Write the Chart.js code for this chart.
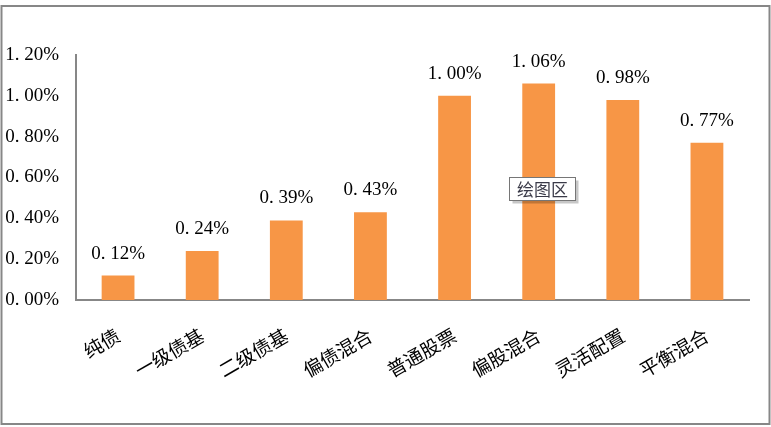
<!DOCTYPE html>
<html>
<head>
<meta charset="utf-8">
<script src="https://cdn.jsdelivr.net/npm/chart.js@4/dist/chart.umd.min.js"></script>
<style>
  html, body { margin: 0; padding: 0; background: #ffffff; }
  #wrap { width: 771px; height: 427px; }
</style>
</head>
<body>
<div id="wrap"><canvas id="c" width="771" height="427"></canvas></div>
<script>
// Fund categories and their average returns (percent)
const categories = ['纯债', '一级债基', '二级债基', '偏债混合', '普通股票', '偏股混合', '灵活配置', '平衡混合'];
const returns = [0.12, 0.24, 0.39, 0.43, 1.00, 1.06, 0.98, 0.77];
const yTickLabels = ['0. 00%', '0. 20%', '0. 40%', '0. 60%', '0. 80%', '1. 00%', '1. 20%'];
const hoverTip = '绘图区';

const numFont = '"Liberation Serif", "Times New Roman", serif';
const cjkFont = '"Noto Sans CJK SC", "Noto Sans", sans-serif';

function fmtPct(v) {
  return v.toFixed(2).replace('.', '. ') + '%';
}

// Outer frame of the chart
const framePlugin = {
  id: 'frame',
  beforeDraw(chart) {
    const ctx = chart.ctx;
    ctx.save();
    ctx.fillStyle = '#ffffff';
    ctx.fillRect(0, 0, chart.width, chart.height);
    ctx.restore();
  },
  afterDraw(chart) {
    const ctx = chart.ctx;
    ctx.save();
    ctx.strokeStyle = '#878787';
    ctx.lineWidth = 2;
    ctx.strokeRect(1.5, 6, 768, 418);
    ctx.restore();
  }
};

// Value labels above each bar
const valueLabels = {
  id: 'valueLabels',
  afterDatasetsDraw(chart) {
    const ctx = chart.ctx;
    const meta = chart.getDatasetMeta(0);
    ctx.save();
    ctx.font = '19px ' + numFont;
    ctx.fillStyle = '#000000';
    ctx.textAlign = 'center';
    ctx.textBaseline = 'alphabetic';
    meta.data.forEach((bar, i) => {
      ctx.fillText(fmtPct(returns[i]), bar.x, bar.y - 17);
    });
    ctx.restore();
  }
};

// Small hover hint box over the plot area
const hintBox = {
  id: 'hintBox',
  afterDraw(chart) {
    const ctx = chart.ctx;
    const x = 509.5, y = 177.5, w = 66, h = 23;
    ctx.save();
    ctx.fillStyle = 'rgba(0,0,0,0.22)';
    ctx.fillRect(x + 3, y + 3, w, h);
    ctx.fillStyle = '#ffffff';
    ctx.fillRect(x, y, w, h);
    ctx.strokeStyle = '#767676';
    ctx.lineWidth = 1;
    ctx.strokeRect(x, y, w, h);
    ctx.font = '17px ' + cjkFont;
    ctx.fillStyle = '#3a3a48';
    ctx.textAlign = 'center';
    ctx.textBaseline = 'middle';
    ctx.fillText(hoverTip, x + w / 2, y + h / 2 + 1);
    ctx.restore();
  }
};

new Chart(document.getElementById('c'), {
  type: 'bar',
  data: {
    labels: categories,
    datasets: [{
      data: returns,
      backgroundColor: '#F79646',
      borderWidth: 0,
      barPercentage: 0.39,
      categoryPercentage: 1.0
    }]
  },
  options: {
    responsive: false,
    animation: false,
    events: [],
    layout: { padding: { left: 0, right: 22, top: 55, bottom: 0 } },
    plugins: {
      legend: { display: false },
      tooltip: { enabled: false },
      title: { display: false }
    },
    scales: {
      x: {
        grid: { display: false, drawTicks: false },
        border: { display: true, color: '#878787', width: 2 },
        ticks: {
          color: '#000000',
          font: { family: cjkFont, size: 19 },
          minRotation: 30,
          maxRotation: 30,
          padding: 24,
          autoSkip: false
        },
        afterFit(scale) { scale.height = 127; }
      },
      y: {
        min: 0,
        max: 1.2,
        grid: { display: false, drawTicks: false },
        border: { display: true, color: '#878787', width: 2 },
        ticks: {
          stepSize: 0.2,
          color: '#000000',
          font: { family: numFont, size: 19 },
          padding: 17,
          callback: (v, i) => yTickLabels[i]
        },
        afterFit(scale) { scale.width = 76; }
      }
    }
  },
  plugins: [framePlugin, valueLabels, hintBox]
});
</script>
</body>
</html>
